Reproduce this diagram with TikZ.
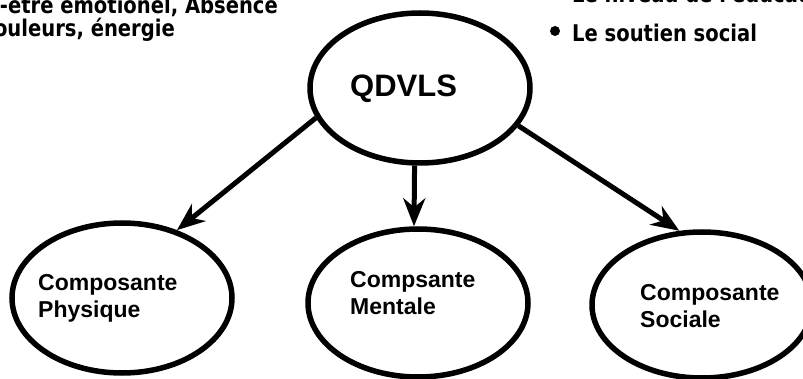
\documentclass[tikz,border=0pt]{standalone}
\usepackage{fontspec}
\setmainfont{Liberation Sans}
\newfontfamily\topfont{DejaVu Sans}[FakeStretch=0.85]
\usetikzlibrary{shapes.geometric,arrows.meta}

\begin{document}
\begin{tikzpicture}[x=1pt,y=-1pt,
  oval/.style={ellipse,draw=black,line width=5.5pt,minimum width=220pt,minimum height=150pt,inner sep=0pt},
  arr/.style={line width=5pt,-{Stealth[length=28pt,width=22pt,inset=9pt]}},
  lbl/.style={anchor=base west,inner sep=0pt,align=left,font=\fontsize{23}{27}\selectfont\bfseries},
  toptxt/.style={inner sep=0pt,font=\topfont\bfseries\fontsize{23}{23}\selectfont}]
\useasboundingbox (0,0) rectangle (803,379);
\clip (0,0) rectangle (803,379);

\node[oval] (q) at (420,88) {};
\node[oval] (p) at (122,298) {};
\node[oval,minimum height=148pt] (m) at (418,303) {};
\node[oval,minimum height=146pt] (s) at (702,305) {};

\node[anchor=base west,inner sep=0pt,font=\fontsize{31}{31}\selectfont\bfseries] (qt) at (350,97) {QDVLS};
\node[lbl] (pt) at (38,317) {Composante\\Physique};
\node[lbl] (mt) at (350,315) {Compsante\\Mentale};
\node[lbl] (st) at (640,327) {Composante\\Sociale};

\draw[arr] (q.196) -- (p.51);
\draw[arr] (q.266) -- (m.93);
\draw[arr] (q.339) -- (s.107);

\fill (555,31) coordinate (b1) circle (5pt);
\node[toptxt,anchor=base west] (t0) at (572,3) {Le niveau de l'éducation};
\node[toptxt,anchor=base west] (t1) at (572,42) {Le soutien social};
\node[toptxt,anchor=base east] (l1) at (278,14) {-être émotionel, Absence};
\node[toptxt,anchor=base east] (l2) at (175,37) {ouleurs, énergie};
\end{tikzpicture}
\end{document}
